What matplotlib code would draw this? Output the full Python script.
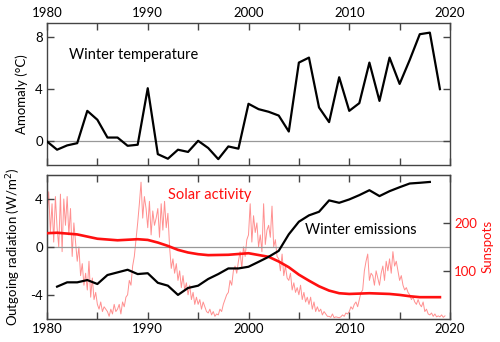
import matplotlib
matplotlib.use('Agg')
import matplotlib.pyplot as plt
import numpy as np

plt.rcParams['font.family'] = ['Lato', 'DejaVu Sans']

# winter temperature anomaly (deg C), one value per year
temp_years = list(range(1980, 2020))
temp_anomaly = [0.0, -0.63, -0.3, -0.13, 2.34, 1.66, 0.3, 0.3, -0.33, -0.25,
                4.07, -0.97, -1.32, -0.63, -0.8, 0.05, -0.5, -1.35, -0.38, -0.55,
                2.88, 2.47, 2.27, 1.98, 0.76, 6.03, 6.41, 2.6, 1.48, 4.91,
                2.34, 2.93, 6.03, 3.1, 6.41, 4.4, 6.23, 8.2, 8.32, 4.0]

# winter outgoing radiation (W/m2)
emis_years = list(range(1981, 2019))
emis_values = [-3.32, -2.96, -2.96, -2.77, -3.1, -2.35, -2.13, -1.91, -2.27, -2.2,
               -3.0, -3.24, -4.01, -3.43, -3.24, -2.68, -2.27, -1.8, -1.8, -1.66,
               -1.25, -0.83, -0.33, 1.05, 2.1, 2.63, 2.93, 3.88, 3.68, 3.96,
               4.32, 4.73, 4.24, 4.65, 4.98, 5.29, 5.35, 5.42]

# smoothed solar activity (W/m2 scale)
solar_years = [1980, 1981, 1983, 1985, 1987, 1989, 1990, 1991, 1992, 1993, 1994, 1995,
               1996, 1998, 2000, 2002, 2003, 2004, 2005, 2006, 2007, 2008, 2009,
               2010, 2012, 2014, 2015, 2016, 2017, 2019]
solar_smooth = [1.14, 1.18, 1.04, 0.68, 0.55, 0.64, 0.58, 0.36, 0.08, -0.25, -0.47, -0.61,
                -0.69, -0.66, -0.53, -0.83, -1.22, -1.7, -2.32, -2.82, -3.29, -3.65, -3.87,
                -3.93, -3.87, -3.93, -4.01, -4.12, -4.2, -4.2]

# sunspot number, six readings per year from 1980 on
sunspots = [
    210, 265, 180, 240, 160, 255,   # 1980
    190, 150, 260, 140, 250, 195,   # 1981
    255, 175, 230, 130, 200, 160,   # 1982
    120, 150, 90, 115, 70, 95,      # 1983
    60, 120, 45, 85, 40, 55,        # 1984
    30, 20, 35, 15, 25, 20,         # 1985
    15, 5, 20, 10, 30, 15,          # 1986
    20, 30, 10, 35, 25, 45,         # 1987
    50, 80, 70, 110, 130, 165,      # 1988
    200, 240, 285, 210, 255, 230,   # 1989
    190, 245, 175, 225, 195, 210,   # 1990
    230, 170, 240, 185, 245, 190,   # 1991
    220, 150, 105, 125, 95, 115,    # 1992
    80, 100, 65, 90, 60, 75,        # 1993
    50, 70, 40, 55, 30, 45,         # 1994
    30, 40, 20, 35, 25, 15,         # 1995
    12, 20, 8, 15, 5, 10,           # 1996
    8, 20, 15, 30, 40, 50,          # 1997
    55, 80, 70, 100, 110, 95,       # 1998
    120, 140, 105, 150, 130, 165,   # 1999
    175, 240, 160, 215, 180, 200,   # 2000
    150, 175, 140, 240, 155, 185,   # 2001
    195, 170, 235, 150, 165, 130,   # 2002
    125, 100, 135, 90, 110, 85,     # 2003
    80, 95, 60, 75, 55, 65,         # 2004
    50, 70, 40, 55, 35, 45,         # 2005
    30, 45, 20, 35, 15, 25,         # 2006
    15, 20, 8, 15, 10, 5,           # 2007
    5, 3, 10, 2, 4, 3,              # 2008
    2, 4, 8, 5, 12, 10,             # 2009
    15, 25, 20, 30, 35, 25,         # 2010
    40, 55, 60, 100, 120, 135,      # 2011
    80, 95, 90, 70, 100, 85,        # 2012
    70, 95, 110, 80, 120, 100,      # 2013
    125, 95, 140, 110, 120, 100,    # 2014
    80, 90, 70, 60, 65, 55,         # 2015
    50, 40, 45, 35, 30, 40,         # 2016
    30, 25, 35, 15, 20, 10,         # 2017
    8, 12, 5, 10, 4, 6,             # 2018
    4, 8, 3, 6,                     # 2019
]
sun_time = 1980 + np.arange(len(sunspots)) / 6.0

year_ticks = [1980, 1990, 2000, 2010, 2020]
RED = '#ff1010'
SPINE = '#444444'

fig = plt.figure(figsize=(5, 3.42), dpi=100)
ax1 = fig.add_axes([0.094, 0.5175, 0.806, 0.415])
ax2 = fig.add_axes([0.094, 0.068, 0.806, 0.4203])


def style(ax):
    for s in ax.spines.values():
        s.set_color(SPINE)
        s.set_linewidth(1.0)
    ax.set_xlim(1980, 2020)
    ax.set_xticks(year_ticks)
    ax.set_xticks(range(1985, 2020, 10), minor=True)
    ax.tick_params(which='both', direction='in', top=True, bottom=True,
                   length=5, width=1, color=SPINE, labelsize=9.5, pad=3)
    ax.axhline(0, color='#999999', lw=0.9, zorder=1)


# top panel
style(ax1)
ax1.plot(temp_years, temp_anomaly, color='black', lw=1.6, zorder=3)
ax1.set_ylim(-1.8, 9.05)
ax1.set_yticks([0, 4, 8])
ax1.tick_params(axis='y', left=True, right=True)
ax1.tick_params(axis='x', labeltop=True, labelbottom=False)
ax1.set_ylabel('Amomaly (°C)', fontsize=9.5, labelpad=5)
ax1.text(1982.2, 6.6, 'Winter temperature', fontsize=10.5, va='center')

# bottom panel
style(ax2)
ax2.plot(emis_years, emis_values, color='black', lw=1.6, zorder=4)
ax2.plot(solar_years, solar_smooth, color=RED, lw=1.9, zorder=3)
ax2.set_ylim(-6, 6)
ax2.set_yticks([-4, 0, 4])
ax2.set_yticklabels(['-4', '0', '4'])
ax2.set_ylabel('Outgoing radiation (W/m$^2$)', fontsize=9.5, labelpad=5)
ax2.patch.set_visible(False)
ax2.text(1992, 4.3, 'Solar activity', color=RED, fontsize=10.5, va='center')
ax2.text(2005.6, 1.45, 'Winter emissions', fontsize=10.5, va='center')

ax3 = ax2.twinx()
ax3.set_zorder(ax2.get_zorder() - 1)
ax3.plot(sun_time, sunspots, color='#ff9090', lw=0.7)
ax3.set_ylim(0, 300)
ax3.set_yticks([100, 200])
ax3.tick_params(axis='y', direction='in', length=5, width=1, color=SPINE,
                labelcolor=RED, labelsize=9.5, pad=3)
ax3.set_ylabel('Sunspots', color=RED, fontsize=9.5, labelpad=3)
for s in ax3.spines.values():
    s.set_color(SPINE)
ax2.tick_params(axis='y', right=False)

fig.savefig('out.png', dpi=100)
